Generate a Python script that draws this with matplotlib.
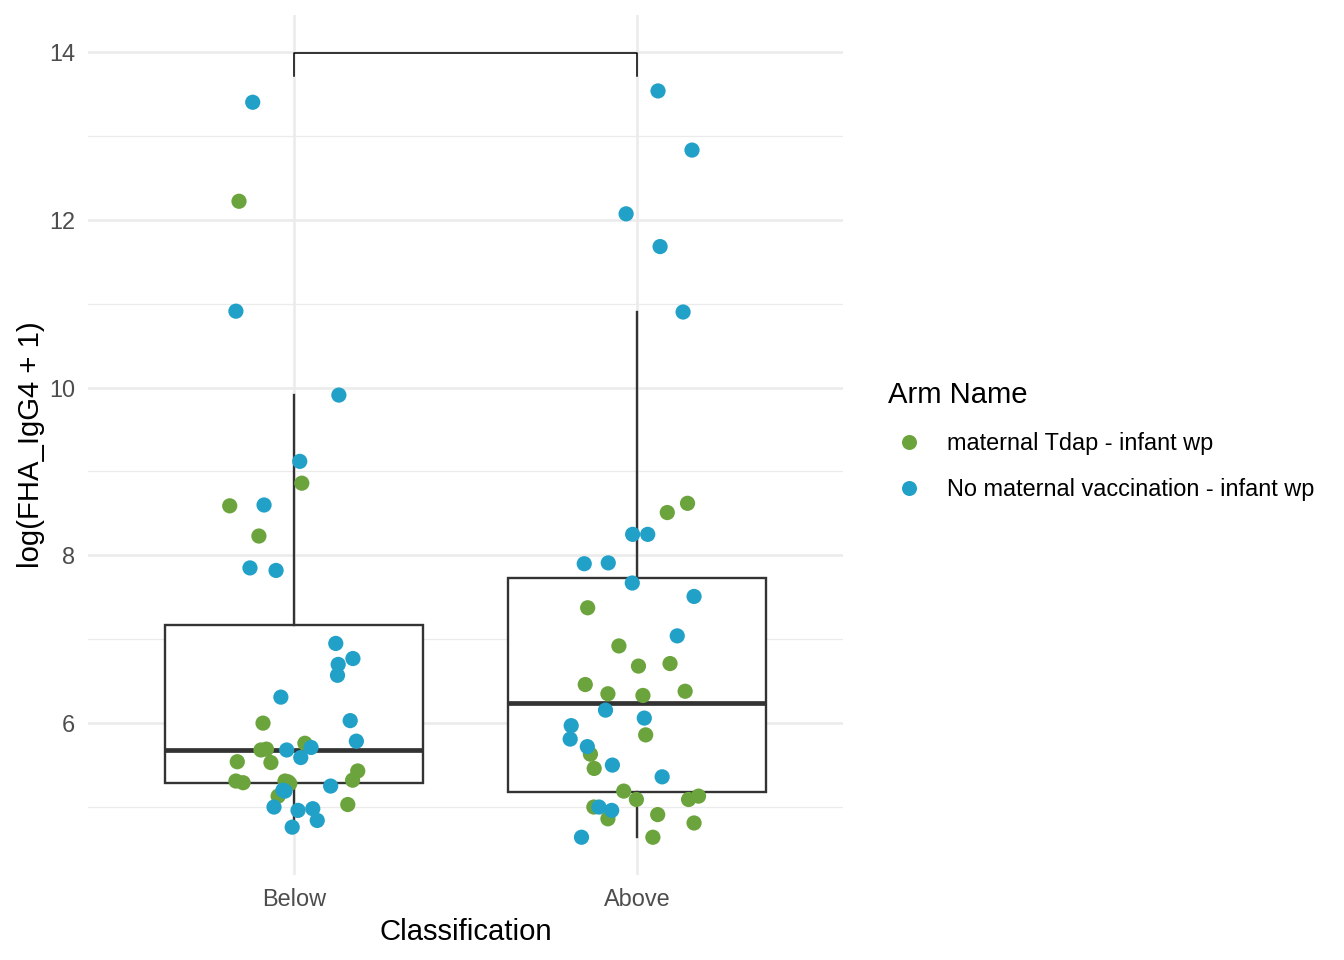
import numpy as np
import matplotlib
matplotlib.use("Agg")
import matplotlib.pyplot as plt
from matplotlib.lines import Line2D

plt.rcParams['font.family'] = ['Liberation Sans', 'DejaVu Sans']

classes = ["Below", "Above"]
arms = ["maternal Tdap - infant wp", "No maternal vaccination - infant wp"]
arm_colors = ["#6BA43C", "#22A1C8"]

# values, with the jitter offset of each point (category units)
below_tdap = [12.22, 8.59, 8.23, 8.86, 6.00, 5.76, 5.68, 5.69, 5.54, 5.53, 5.43,
              5.32, 5.31, 5.29, 5.31, 5.28, 5.13, 5.03, 5.30]
below_tdap_jit = [-0.160, -0.187, -0.102, 0.023, -0.090, 0.032, -0.096, -0.080, -0.165, -0.067, 0.186,
                  0.171, -0.169, -0.148, -0.026, -0.012, -0.046, 0.157, -0.017]
below_none = [13.40, 10.91, 9.91, 9.12, 8.60, 7.85, 7.82, 6.95, 6.77, 6.70, 6.57, 6.31,
              6.03, 5.785, 5.71, 5.68, 5.59, 5.25, 5.19, 5.00, 4.96, 4.98, 4.84, 4.76, 5.20]
below_none_jit = [-0.120, -0.169, 0.131, 0.017, -0.087, -0.128, -0.052, 0.122, 0.172, 0.129, 0.127, -0.038,
                  0.164, 0.182, 0.050, -0.021, 0.020, 0.107, -0.026, -0.058, 0.012, 0.055, 0.068, -0.005, -0.032]
above_tdap = [8.62, 8.51, 7.375, 6.92, 6.68, 6.71, 6.46, 6.35, 6.33, 6.38, 5.86,
              5.63, 5.46, 5.19, 5.09, 5.09, 5.13, 5.00, 4.86, 4.91, 4.81, 4.64]
above_tdap_jit = [0.147, 0.088, -0.144, -0.053, 0.004, 0.096, -0.151, -0.085, 0.017, 0.140, 0.025,
                  -0.136, -0.125, -0.039, -0.002, 0.150, 0.179, -0.126, -0.085, 0.060, 0.166, 0.046]
above_none = [13.535, 12.83, 12.07, 11.68, 10.90, 8.25, 8.25, 7.90, 7.91, 7.67, 7.51,
              7.04, 6.155, 6.06, 5.97, 5.81, 5.72, 5.50, 5.36, 5.00, 4.96, 4.64]
above_none_jit = [0.061, 0.160, -0.032, 0.067, 0.134, -0.013, 0.031, -0.154, -0.084, -0.014, 0.166,
                  0.117, -0.092, 0.021, -0.192, -0.195, -0.145, -0.072, 0.073, -0.111, -0.074, -0.162]

bracket_y = 13.99
bracket_tip = 13.71

fig = plt.figure(figsize=(13.44, 9.6), dpi=100)
ax = fig.add_axes([88/1344, 1 - 875/960, (843 - 88)/1344, (875 - 15)/960])

pos = [1, 2]
groups = [below_tdap + below_none, above_tdap + above_none]
box_col = "#333333"
ax.boxplot(groups, positions=pos, widths=0.75, whis=1.5, showfliers=False, showcaps=False,
           patch_artist=True, zorder=2,
           boxprops=dict(facecolor="white", edgecolor=box_col, linewidth=1.7),
           whiskerprops=dict(color=box_col, linewidth=1.7),
           medianprops=dict(color=box_col, linewidth=3.4))

series = [
    (1, below_tdap, below_tdap_jit, 0),
    (2, above_tdap, above_tdap_jit, 0),
    (1, below_none, below_none_jit, 1),
    (2, above_none, above_none_jit, 1),
]
for p, vals, jit, k in series:
    ax.scatter(np.array(jit) + p, vals, s=120, color=arm_colors[k], edgecolors="none", zorder=3)

ax.plot([1, 1, 2, 2], [bracket_tip, bracket_y, bracket_y, bracket_tip], color="black", lw=1.1, zorder=4)

ax.set_xlim(0.4, 2.6)
ax.set_ylim(4.19, 14.44)
ax.set_xticks(pos)
ax.set_xticklabels(classes)
ax.set_yticks([6, 8, 10, 12, 14])
ax.set_yticks([5, 7, 9, 11, 13], minor=True)
ax.grid(True, which="major", color="#EBEBEB", linewidth=1.8, zorder=0)
ax.grid(True, which="minor", axis="y", color="#EBEBEB", linewidth=0.9, zorder=0)
ax.set_axisbelow(True)
for s in ax.spines.values():
    s.set_visible(False)
ax.tick_params(which="both", length=0, labelsize=16.9, labelcolor="#4D4D4D", pad=9.4)
ax.set_xlabel("Classification", fontsize=21.1, labelpad=5)
ax.set_ylabel("log(FHA_IgG4 + 1)", fontsize=21.1, labelpad=3)

handles = [Line2D([], [], marker="o", linestyle="none", markersize=10.8,
                  markerfacecolor=c, markeredgecolor="none") for c in arm_colors]
leg = fig.legend(handles, arms, title="Arm Name", loc="upper left",
                 bbox_to_anchor=(879/1344, 1 - 372/960), frameon=False,
                 fontsize=16.9, title_fontsize=21.1, handlelength=1.75, handletextpad=0.74,
                 labelspacing=0.97, borderaxespad=0)
leg._legend_box.align = "left"

fig.savefig("out.png", dpi=100)
